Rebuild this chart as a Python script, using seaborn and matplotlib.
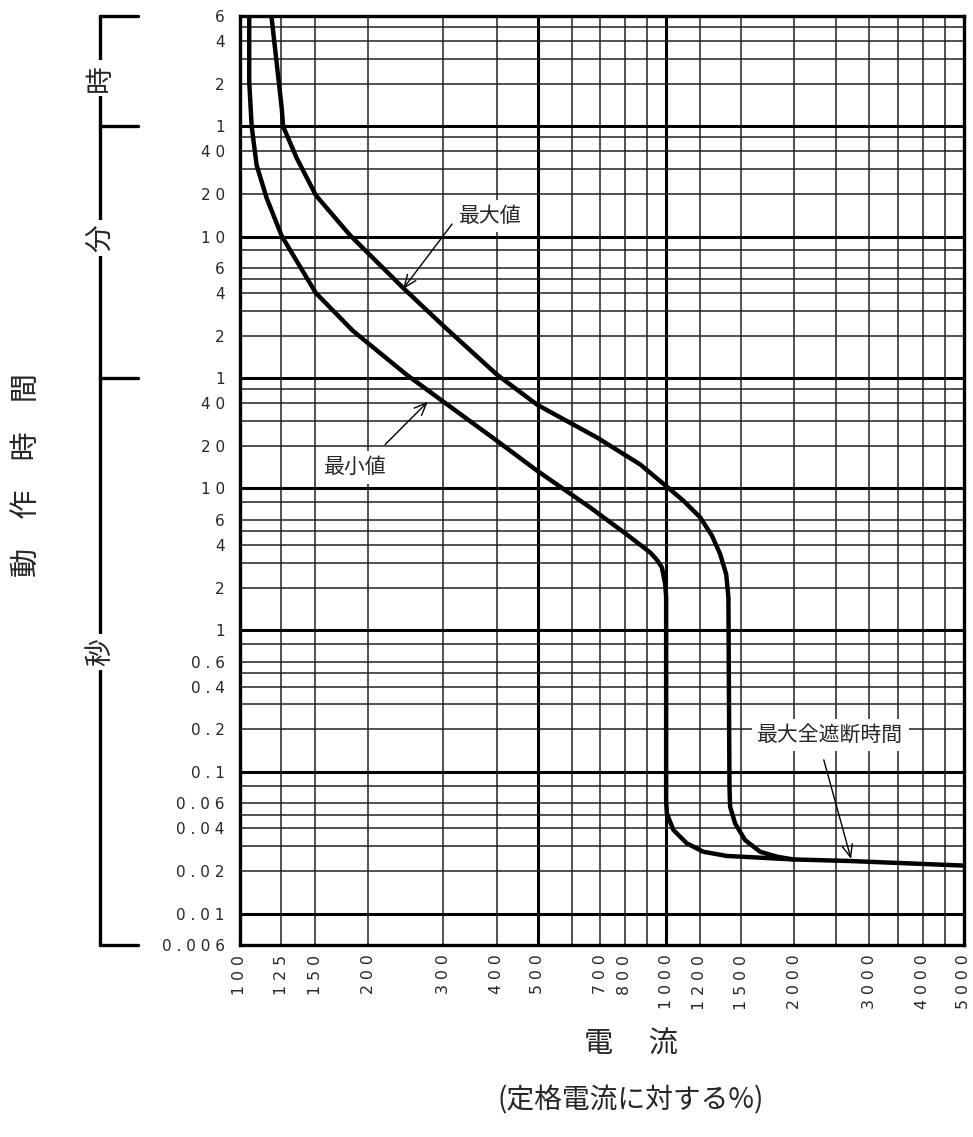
import matplotlib
matplotlib.use('Agg')
import matplotlib.pyplot as plt
import matplotlib.transforms as mtrans
from matplotlib.ticker import NullLocator
import seaborn as sns
import pandas as pd

sns.set_style('white')
plt.rcParams['font.family'] = ['Noto Sans CJK JP', 'DejaVu Sans']

# 最大値 curve (current %, time s)
max_x = [118.5, 125.3, 126.2, 135.9, 150.6, 181, 241.5, 300, 401, 498, 688, 868.5, 1004,
         1098, 1202, 1281, 1339, 1383, 1400, 1408, 1413, 1452, 1532, 1662, 1820, 1987, 2689, 5000]
max_y = [21600, 4820, 3600, 2143, 1175, 615, 260, 140.6, 63.5, 39, 22.9, 14.8, 10.3,
         8.19, 6.25, 4.64, 3.44, 2.49, 1.71, 0.0784, 0.0567, 0.0432, 0.033, 0.0273, 0.0252, 0.0241, 0.0235, 0.0218]

# 最小値 curve
min_x = [105.1, 105.1, 106.5, 109.4, 115.5, 125.3, 150.6, 184, 246, 300, 400, 497,
         663, 802, 868.5, 917, 950, 977, 995, 1000, 1000, 1004, 1040, 1118, 1223, 1388, 1662, 1987]
min_y = [21600, 7470, 3600, 1913, 1120, 605, 240, 129.7, 63.5, 41, 21.8, 13.4,
         7.35, 4.82, 4.01, 3.54, 3.15, 2.78, 2.12, 1.71, 0.0618, 0.0508, 0.0389, 0.0313, 0.0273, 0.0255, 0.0248, 0.0241]

# grid lines
vgrid_thin = [125, 150, 200, 300, 400, 600, 700, 800, 900, 1200, 1500, 2000, 2500, 3000, 3500, 4000, 4500]
vgrid_thick = [500, 1000]
hgrid_thin = [0.02, 0.03, 0.04, 0.05, 0.06, 0.08, 0.2, 0.3, 0.4, 0.5, 0.6, 0.8,
              2, 3, 4, 5, 6, 8, 20, 30, 40, 50,
              120, 180, 240, 300, 360, 480, 1200, 1800, 2400, 3000,
              7200, 10800, 14400, 18000]
hgrid_thick = [0.01, 0.1, 1, 10, 60, 600, 3600]

# tick labels
x_ticks = [100, 125, 150, 200, 300, 400, 500, 700, 800, 1000, 1200, 1500, 2000, 3000, 4000, 5000]
y_ticks = [21600, 14400, 7200, 3600, 2400, 1200, 600, 360, 240, 120, 60, 40, 20, 10, 6, 4, 2, 1,
           0.6, 0.4, 0.2, 0.1, 0.06, 0.04, 0.02, 0.01, 0.006]
y_labels = ['6', '4', '2', '1', '40', '20', '10', '6', '4', '2', '1', '40', '20', '10', '6', '4', '2', '1',
            '0.6', '0.4', '0.2', '0.1', '0.06', '0.04', '0.02', '0.01', '0.006']

# unit bracket (時 / 分 / 秒)
unit_bounds = [21600, 3600, 60, 0.006]
unit_names = ['時', '分', '秒']
unit_pos = [7840, 586, 0.7]


def spaced(s):
    return ' '.join(s)


fig = plt.figure(figsize=(9.73, 11.37), dpi=100)
ax = fig.add_axes([240 / 973, 1 - 945 / 1137, 724 / 973, 929 / 1137])
ax.set_xscale('log')
ax.set_yscale('log')
ax.set_xlim(100, 5000)
ax.set_ylim(0.006, 21600)

for v in vgrid_thin:
    ax.axvline(v, color='#222222', lw=1.1, zorder=1)
for v in vgrid_thick:
    ax.axvline(v, color='black', lw=2.2, zorder=1)
for v in hgrid_thin:
    ax.axhline(v, color='#222222', lw=1.1, zorder=1)
for v in hgrid_thick:
    ax.axhline(v, color='black', lw=2.2, zorder=1)

curves = pd.concat([
    pd.DataFrame({'x': max_x, 'y': max_y, 'c': '最大値'}),
    pd.DataFrame({'x': min_x, 'y': min_y, 'c': '最小値'}),
])
for name, d in curves.groupby('c'):
    sns.lineplot(data=d, x='x', y='y', ax=ax, color='black', lw=3.2,
                 sort=False, estimator=None, zorder=4)

ax.set_xlabel('')
ax.set_ylabel('')
ax.xaxis.set_minor_locator(NullLocator())
ax.yaxis.set_minor_locator(NullLocator())
ax.set_xticks(x_ticks)
ax.set_xticklabels([spaced(str(v)) for v in x_ticks], rotation=90,
                   family='DejaVu Sans', fontsize=11.3)
ax.set_yticks(y_ticks)
ax.set_yticklabels([spaced(s) for s in y_labels], family='DejaVu Sans', fontsize=11)
ax.tick_params(axis='x', length=0, pad=7)
ax.tick_params(axis='y', length=0, pad=11)
for sp in ax.spines.values():
    sp.set_visible(True)
    sp.set_color('black')
    sp.set_linewidth(2.4)

box = dict(boxstyle='square,pad=0.25', fc='white', ec='none')
arrow = dict(arrowstyle='->,head_length=0.6,head_width=0.25', lw=1.0, color='black',
             mutation_scale=15, shrinkA=0, shrinkB=0)

ax.text(386, 836, '最大値', fontsize=15, ha='center', va='center', bbox=box, zorder=3)
ax.annotate('', xy=(241.3, 256), xytext=(314.6, 735), arrowprops=arrow, zorder=5)
ax.text(186, 14.1, '最小値', fontsize=15, ha='center', va='center', bbox=box, zorder=3)
ax.annotate('', xy=(276, 41), xytext=(219, 20.4), arrowprops=arrow, zorder=5)
ax.text(2427, 0.182, '最大全遮断時間', fontsize=15, ha='center', va='center', bbox=box, zorder=3)
ax.annotate('', xy=(2716, 0.0243), xytext=(2344, 0.1215), arrowprops=arrow, zorder=5)

# left bracket for time units
trans = mtrans.blended_transform_factory(ax.transAxes, ax.transData)
bx = (100 - 240) / 724
bx2 = (138 - 240) / 724
ax.plot([bx, bx], [unit_bounds[0], unit_bounds[-1]], transform=trans, clip_on=False,
        color='black', lw=2.4)
for v in unit_bounds:
    ax.plot([bx, bx2], [v, v], transform=trans, clip_on=False, color='black', lw=2.4)
for name, yv in zip(unit_names, unit_pos):
    ax.text(bx, yv, name, transform=trans, rotation=90, fontsize=20, ha='center', va='center',
            bbox=dict(boxstyle='square,pad=0.15', fc='white', ec='none'), clip_on=False)

fig.text(28 / 973, 1 - 475 / 1137, '動\u3000作\u3000時\u3000間', rotation=90,
         fontsize=21, ha='center', va='center')
fig.text(631 / 973, 1 - 1045 / 1137, '電\u3000 流', fontsize=21, ha='center', va='center')
fig.text(631 / 973, 1 - 1100 / 1137, '(定格電流に対する%)', fontsize=20, ha='center', va='center')

fig.savefig('out.png', dpi=100)
